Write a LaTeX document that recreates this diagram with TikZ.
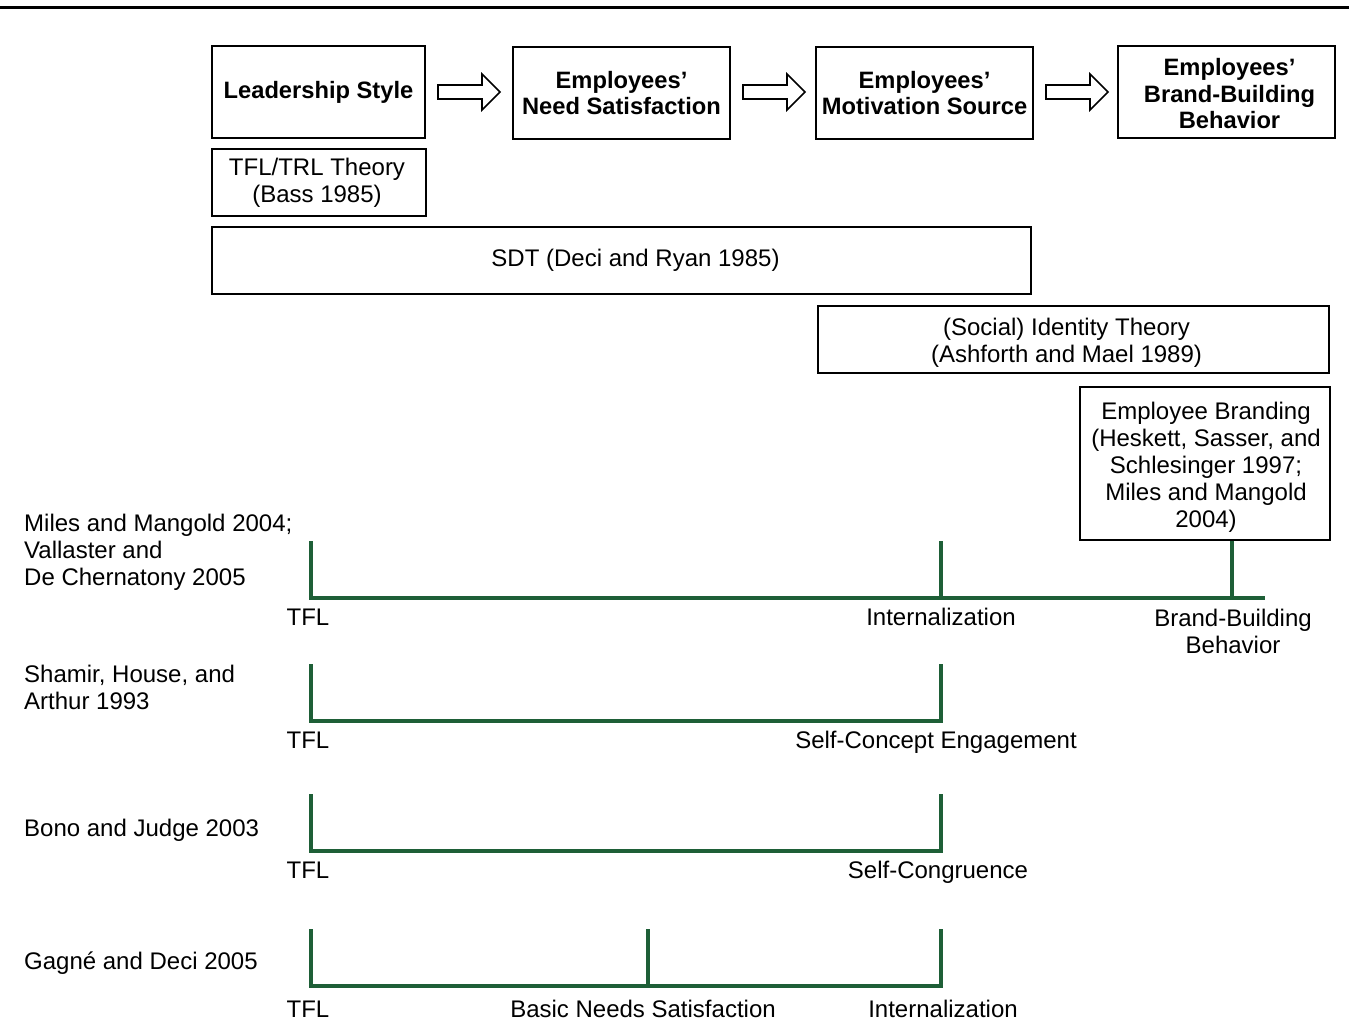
\documentclass[tikz,border=0pt]{standalone}
\usepackage{fontspec}
\setmainfont{Liberation Sans}
\definecolor{linkgreen}{RGB}{30,95,55}
\tikzset{
  stage/.style={draw, line width=2.4pt, align=center, inner sep=0pt,
    font=\bfseries\fontsize{23.7}{26.5}\selectfont},
  theory/.style={draw, line width=1.1pt, align=center, inner sep=0pt,
    font=\fontsize{24}{27}\selectfont},
  lbl/.style={align=center, inner sep=0pt, font=\fontsize{24}{27}\selectfont},
  leftlbl/.style={align=left, inner sep=0pt, anchor=west, font=\fontsize{24}{27}\selectfont},
  link/.style={draw=linkgreen, line width=3.4pt},
  flow/.style={draw, line width=1.6pt, fill=white, line join=miter}
}
\newcommand\hollowarrow[1]{%
  \draw[flow] ([shift={(0,-7)}]#1) -- ++(44,0) -- ++(0,-11) -- ++(18,18)
    -- ++(-18,18) -- ++(0,-11) -- ++(-44,0) -- cycle;}
\begin{document}
\begin{tikzpicture}[x=1pt,y=-1pt]
\useasboundingbox (0,0) rectangle (1349,1022);
% top rule
\coordinate (ruleL) at (0,8);
\coordinate (ruleR) at (1349,8);
\draw[line width=3pt] (ruleL) -- (ruleR);

% stage boxes
\node[stage, minimum width=213pt, minimum height=92pt] (s1) at (318.5,92) {Leadership Style};
\node[stage, minimum width=217pt, minimum height=92pt] (s2) at (621.5,93) {Employees'\\Need Satisfaction};
\node[stage, minimum width=217pt, minimum height=92pt] (s3) at (924.5,93) {Employees'\\Motivation Source};
\node[stage, minimum width=217pt, minimum height=92pt] (s4) at (1226.5,92) {};
\node[lbl, font=\bfseries\fontsize{23.7}{26.5}\selectfont] (s4text) at ([shift={(3,2)}]s4.center) {Employees'\\Brand-Building\\Behavior};

% hollow arrows
\coordinate (a1) at (438,92);
\coordinate (a2) at (743,92);
\coordinate (a3) at (1046,92);
\hollowarrow{a1}
\hollowarrow{a2}
\hollowarrow{a3}

% theory boxes
\node[theory, minimum width=214pt, minimum height=67pt] (t1) at (319,182.5) {};
\node[lbl] (t1text) at ([shift={(-2,0)}]t1.center) {TFL/TRL Theory\\(Bass 1985)};
\node[theory, minimum width=819pt, minimum height=67pt] (t2) at (621.5,260.5) {};
\node[lbl] (t2text) at ([shift={(14,0)}]t2.center) {SDT (Deci and Ryan 1985)};
\node[theory, minimum width=511pt, minimum height=67pt] (t3) at (1073.5,339.5) {};
\node[lbl] (t3text) at ([shift={(-7,3)}]t3.center) {(Social) Identity Theory\\(Ashforth and Mael 1989)};
\node[theory, minimum width=250pt, minimum height=153pt] (t4) at (1205,463.5) {};
\node[lbl] (t4text) at ([shift={(1,4)}]t4.center) {Employee Branding\\(Heskett, Sasser, and\\Schlesinger 1997;\\Miles and Mangold\\2004)};

% row 1
\node[leftlbl] (l1) at (24,552) {Miles and Mangold 2004;\\Vallaster and\\De Chernatony 2005};
\coordinate (r1a) at (311,541);
\coordinate (r1b) at (311,598);
\coordinate (r1c) at (941,541);
\coordinate (r1d) at (941,598);
\coordinate (r1f) at (1232,598);
\coordinate (r1e) at (1265,598);
\draw[link] (r1a) -- (r1b) -- (r1e);
\draw[link] (r1c) -- (r1d);
\draw[link] (r1f |- t4.south) -- (r1f);
\node[lbl] (n1a) at (308,617) {TFL};
\node[lbl] (n1b) at (941,617) {Internalization};
\node[lbl] (n1c) at (1233,631) {Brand-Building\\Behavior};

% row 2
\node[leftlbl] (l2) at (24,687) {Shamir, House, and\\Arthur 1993};
\coordinate (r2a) at (311,664);
\coordinate (r2b) at (311,721);
\coordinate (r2c) at (941,664);
\coordinate (r2d) at (941,721);
\draw[link] (r2a) -- (r2b) -- (r2d) -- (r2c);
\node[lbl] (n2a) at (308,740) {TFL};
\node[lbl, anchor=base] (n2b) at (936,748.5) {Self-Concept Engagement};

% row 3
\node[leftlbl] (l3) at (24,830) {Bono and Judge 2003};
\coordinate (r3a) at (311,794);
\coordinate (r3b) at (311,851);
\coordinate (r3c) at (941,794);
\coordinate (r3d) at (941,851);
\draw[link] (r3a) -- (r3b) -- (r3d) -- (r3c);
\node[lbl] (n3a) at (308,870) {TFL};
\node[lbl, anchor=base] (n3b) at (938,878.5) {Self-Congruence};

% row 4
\node[leftlbl] (l4) at (24,963) {Gagné and Deci 2005};
\coordinate (r4a) at (311,929);
\coordinate (r4b) at (311,986);
\coordinate (r4c) at (648,929);
\coordinate (r4d) at (648,986);
\coordinate (r4e) at (941,929);
\coordinate (r4f) at (941,986);
\draw[link] (r4a) -- (r4b) -- (r4f) -- (r4e);
\draw[link] (r4c) -- (r4d);
\node[lbl] (n4a) at (308,1009) {TFL};
\node[lbl, anchor=base] (n4b) at (643,1017.5) {Basic Needs Satisfaction};
\node[lbl] (n4c) at (943,1009) {Internalization};
\end{tikzpicture}
\end{document}
